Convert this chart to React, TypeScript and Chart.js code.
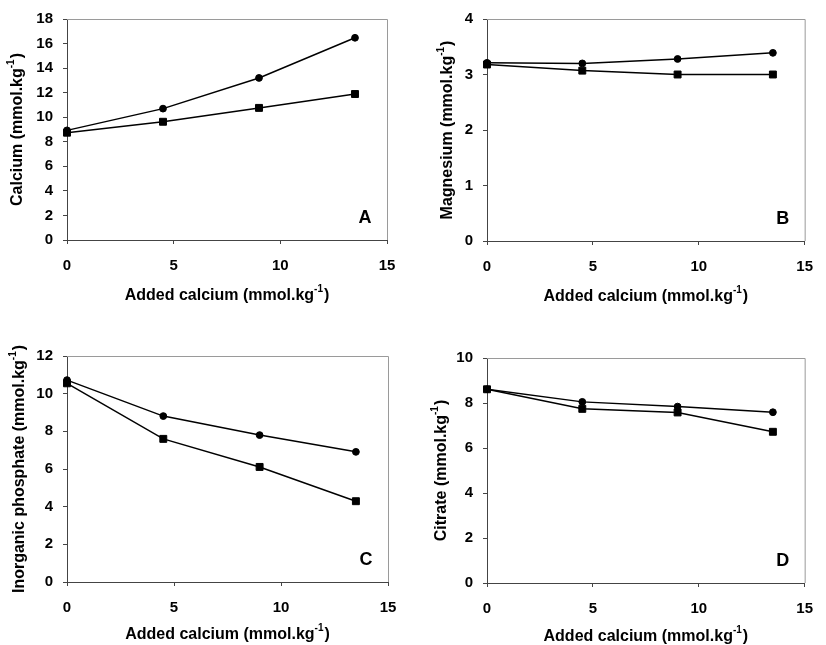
import React, { useEffect, useRef } from "react";
import { Chart, registerables } from "chart.js";
Chart.register(...registerables);

const addedCalcium = [0, 4.5, 9, 13.5];
const xTicks = [0, 5, 10, 15];

const calciumCircle = [8.93, 10.7, 13.2, 16.47];
const calciumSquare = [8.74, 9.63, 10.76, 11.89];
const magnesiumCircle = [3.21, 3.2, 3.28, 3.39];
const magnesiumSquare = [3.18, 3.07, 3.0, 3.0];
const phosphateCircle = [10.72, 8.81, 7.8, 6.91];
const phosphateSquare = [10.55, 7.6, 6.11, 4.29];
const citrateCircle = [8.61, 8.05, 7.84, 7.59];
const citrateSquare = [8.61, 7.74, 7.58, 6.72];

const xTitle = "Added calcium (mmol.kg";
const supText = "-1";

type PanelCfg = {
  letter: string;
  yTitle: string;
  circle: number[];
  square: number[];
  yMax: number;
  yStep: number;
  left: number;
  top: number;
  w: number;
  h: number;
  plotL: number;
  plotR: number;
  plotT: number;
  plotB: number;
  yTitleOff: number;
  xTitleOff: number;
};

const panels: PanelCfg[] = [
  { letter: "A", yTitle: "Calcium (mmol.kg", circle: calciumCircle, square: calciumSquare, yMax: 18, yStep: 2,
    left: 0, top: 0, w: 413, h: 322, plotL: 67, plotR: 387, plotT: 17, plotB: 240, yTitleOff: 49, xTitleOff: 56 },
  { letter: "B", yTitle: "Magnesium (mmol.kg", circle: magnesiumCircle, square: magnesiumSquare, yMax: 4, yStep: 1,
    left: 413, top: 0, w: 413, h: 322, plotL: 74, plotR: 403, plotT: 19, plotB: 241, yTitleOff: 39, xTitleOff: 56 },
  { letter: "C", yTitle: "Inorganic phosphate (mmol.kg", circle: phosphateCircle, square: phosphateSquare, yMax: 12, yStep: 2,
    left: 0, top: 322, w: 413, h: 323, plotL: 67, plotR: 388, plotT: 34, plotB: 260, yTitleOff: 47, xTitleOff: 53 },
  { letter: "D", yTitle: "Citrate (mmol.kg", circle: citrateCircle, square: citrateSquare, yMax: 10, yStep: 2,
    left: 413, top: 322, w: 413, h: 323, plotL: 74, plotR: 404, plotT: 36, plotB: 261, yTitleOff: 45, xTitleOff: 54 },
];

const FONT = "'Liberation Sans', Arial, sans-serif";

function drawSupTitle(ctx: CanvasRenderingContext2D, main: string, cx: number, cy: number, rotate: boolean) {
  ctx.save();
  ctx.translate(cx, cy);
  if (rotate) ctx.rotate(-Math.PI / 2);
  const mainFont = `bold 16px ${FONT}`;
  const supFont = `bold 10px ${FONT}`;
  ctx.font = mainFont;
  const w1 = ctx.measureText(main).width;
  const w3 = ctx.measureText(")").width;
  ctx.font = supFont;
  const w2 = ctx.measureText(supText).width + 1;
  const total = w1 + w2 + w3;
  let x = -total / 2;
  ctx.fillStyle = "#000";
  ctx.textBaseline = "middle";
  ctx.textAlign = "left";
  ctx.font = mainFont;
  ctx.fillText(main, x, 0);
  x += w1;
  ctx.font = supFont;
  ctx.fillText(supText, x, -7);
  x += w2;
  ctx.font = mainFont;
  ctx.fillText(")", x, 0);
  ctx.restore();
}

function Panel({ cfg }: { cfg: PanelCfg }) {
  const ref = useRef<HTMLCanvasElement>(null);
  useEffect(() => {
    if (!ref.current) return;
    const decor = {
      id: "decor",
      beforeDatasetsDraw(chart: any) {
        const { ctx, chartArea } = chart;
        ctx.save();
        ctx.strokeStyle = "#9a9a9a";
        ctx.lineWidth = 1;
        ctx.beginPath();
        ctx.moveTo(chartArea.left, chartArea.top + 0.5);
        ctx.lineTo(chartArea.right + 0.5, chartArea.top + 0.5);
        ctx.lineTo(chartArea.right + 0.5, chartArea.bottom);
        ctx.stroke();
        ctx.restore();
      },
      afterDraw(chart: any) {
        const { ctx, chartArea } = chart;
        drawSupTitle(ctx, xTitle, (chartArea.left + chartArea.right) / 2, chartArea.bottom + cfg.xTitleOff, false);
        drawSupTitle(ctx, cfg.yTitle, chartArea.left - cfg.yTitleOff, (chartArea.top + chartArea.bottom) / 2, true);
        ctx.save();
        ctx.font = `bold 18px ${FONT}`;
        ctx.fillStyle = "#000";
        ctx.textAlign = "center";
        ctx.textBaseline = "middle";
        ctx.fillText(cfg.letter, chartArea.right - 22, chartArea.bottom - 22);
        ctx.restore();
      },
    };
    const tickFont = { family: FONT, size: 15, weight: "bold" as const };
    const chart = new Chart(ref.current, {
      type: "line",
      data: {
        datasets: [
          {
            data: addedCalcium.map((x, i) => ({ x, y: cfg.circle[i] })),
            borderColor: "#000",
            backgroundColor: "#000",
            borderWidth: 1.5,
            pointStyle: "circle",
            pointRadius: 3.4,
            pointBorderWidth: 1,
            clip: false as any,
          },
          {
            data: addedCalcium.map((x, i) => ({ x, y: cfg.square[i] })),
            borderColor: "#000",
            backgroundColor: "#000",
            borderWidth: 1.5,
            pointStyle: "rect",
            pointRadius: 4.9,
            pointBorderWidth: 1,
            clip: false as any,
          },
        ],
      },
      options: {
        responsive: false,
        animation: false,
        layout: { padding: { left: 0, top: cfg.plotT, right: cfg.w - cfg.plotR, bottom: 0 } },
        plugins: { legend: { display: false }, tooltip: { enabled: false } },
        scales: {
          x: {
            type: "linear",
            min: 0,
            max: 15,
            afterFit: (s: any) => { s.height = cfg.h - cfg.plotB; },
            afterBuildTicks: (s: any) => { s.ticks = xTicks.map((v) => ({ value: v })); },
            ticks: { font: tickFont, color: "#000", padding: 13, maxRotation: 0 },
            grid: { display: true, drawOnChartArea: false, drawTicks: true, tickLength: 4, color: "#444" },
            border: { display: true, color: "#444", width: 1 },
          },
          y: {
            type: "linear",
            min: 0,
            max: cfg.yMax,
            afterFit: (s: any) => { s.width = cfg.plotL; },
            ticks: { stepSize: cfg.yStep, font: tickFont, color: "#000", padding: 10 },
            grid: { display: true, drawOnChartArea: false, drawTicks: true, tickLength: 4, color: "#444" },
            border: { display: true, color: "#444", width: 1 },
          },
        },
      },
      plugins: [decor],
    });
    return () => chart.destroy();
  }, [cfg]);
  return (
    <canvas
      ref={ref}
      width={cfg.w}
      height={cfg.h}
      style={{ position: "absolute", left: cfg.left, top: cfg.top, width: cfg.w, height: cfg.h }}
    />
  );
}

export default function App() {
  return (
    <div style={{ position: "absolute", left: 0, top: 0, width: 826, height: 645, background: "#fff" }}>
      {panels.map((p) => (
        <Panel key={p.letter} cfg={p} />
      ))}
    </div>
  );
}
